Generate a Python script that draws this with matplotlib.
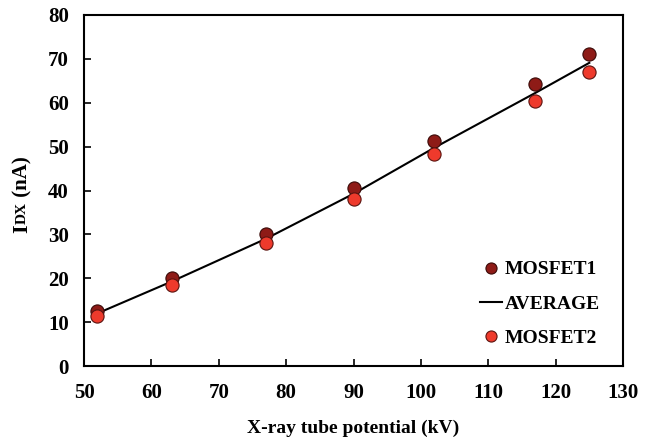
import numpy as np
import matplotlib.pyplot as plt
from matplotlib.lines import Line2D

plt.rcParams['font.family'] = ['Liberation Serif', 'DejaVu Serif']
plt.rcParams['font.weight'] = 'bold'

kv = [52, 63, 77, 90, 102, 117, 125]
mosfet1 = [12.5, 20.0, 30.0, 40.5, 51.2, 64.2, 71.2]
mosfet2 = [11.5, 18.5, 28.0, 38.0, 48.3, 60.3, 67.0]
average = [(a + b) / 2 for a, b in zip(mosfet1, mosfet2)]

fig = plt.figure(figsize=(6.55, 4.41), dpi=100)
ax = fig.add_axes([84 / 655, 1 - 366 / 441, (623 - 84) / 655, (366 - 15) / 441])

ax.plot(kv, average, color='black', lw=1.5, zorder=2)
ax.scatter(kv, mosfet1, s=90, color='#8e1b17', edgecolors='#3a0a08', linewidths=0.8, zorder=3)
ax.scatter(kv, mosfet2, s=90, color='#ee3a2c', edgecolors='#5a1410', linewidths=0.8, zorder=3)

ax.set_xlim(50, 130)
ax.set_ylim(0, 80)
ax.set_xticks(np.arange(50, 131, 10))
ax.set_yticks(np.arange(0, 81, 10))
ax.tick_params(direction='in', length=5, width=1.2, labelsize=15)
ax.tick_params(axis='x', pad=12)
ax.tick_params(axis='y', pad=11)
for s in ax.spines.values():
    s.set_linewidth(1.5)
for lab in ax.get_xticklabels() + ax.get_yticklabels():
    lab.set_fontweight('bold')

ax.set_xlabel('X-ray tube potential (kV)', fontsize=14, fontweight='bold', labelpad=12)

# y label: "I" + smaller "DX" + " (nA)", stacked by hand
fig.canvas.draw()
r = fig.canvas.get_renderer()
y0 = 233
parts = [('I', 16), ('DX', 11), (' (nA)', 15)]
for txt, fs in parts:
    t = fig.text(22 / 655, 1 - y0 / 441, txt, rotation=90, fontsize=fs, fontweight='bold',
                 ha='left', va='center', rotation_mode='anchor')
    bb = t.get_window_extent(r)
    y0 -= bb.height

handles = [
    Line2D([], [], marker='o', ls='none', ms=8, color='#8e1b17', mec='#3a0a08', mew=0.8),
    Line2D([], [], color='black', lw=1.5),
    Line2D([], [], marker='o', ls='none', ms=8, color='#ee3a2c', mec='#5a1410', mew=0.8),
]
ax.legend(handles, ['MOSFET1', 'AVERAGE', 'MOSFET2'], loc='lower right',
          bbox_to_anchor=(0.99, 0.005), frameon=False,
          handlelength=1.15, handletextpad=0.15, labelspacing=0.85,
          prop={'weight': 'bold', 'size': 14})

fig.savefig('out.png', dpi=100)
